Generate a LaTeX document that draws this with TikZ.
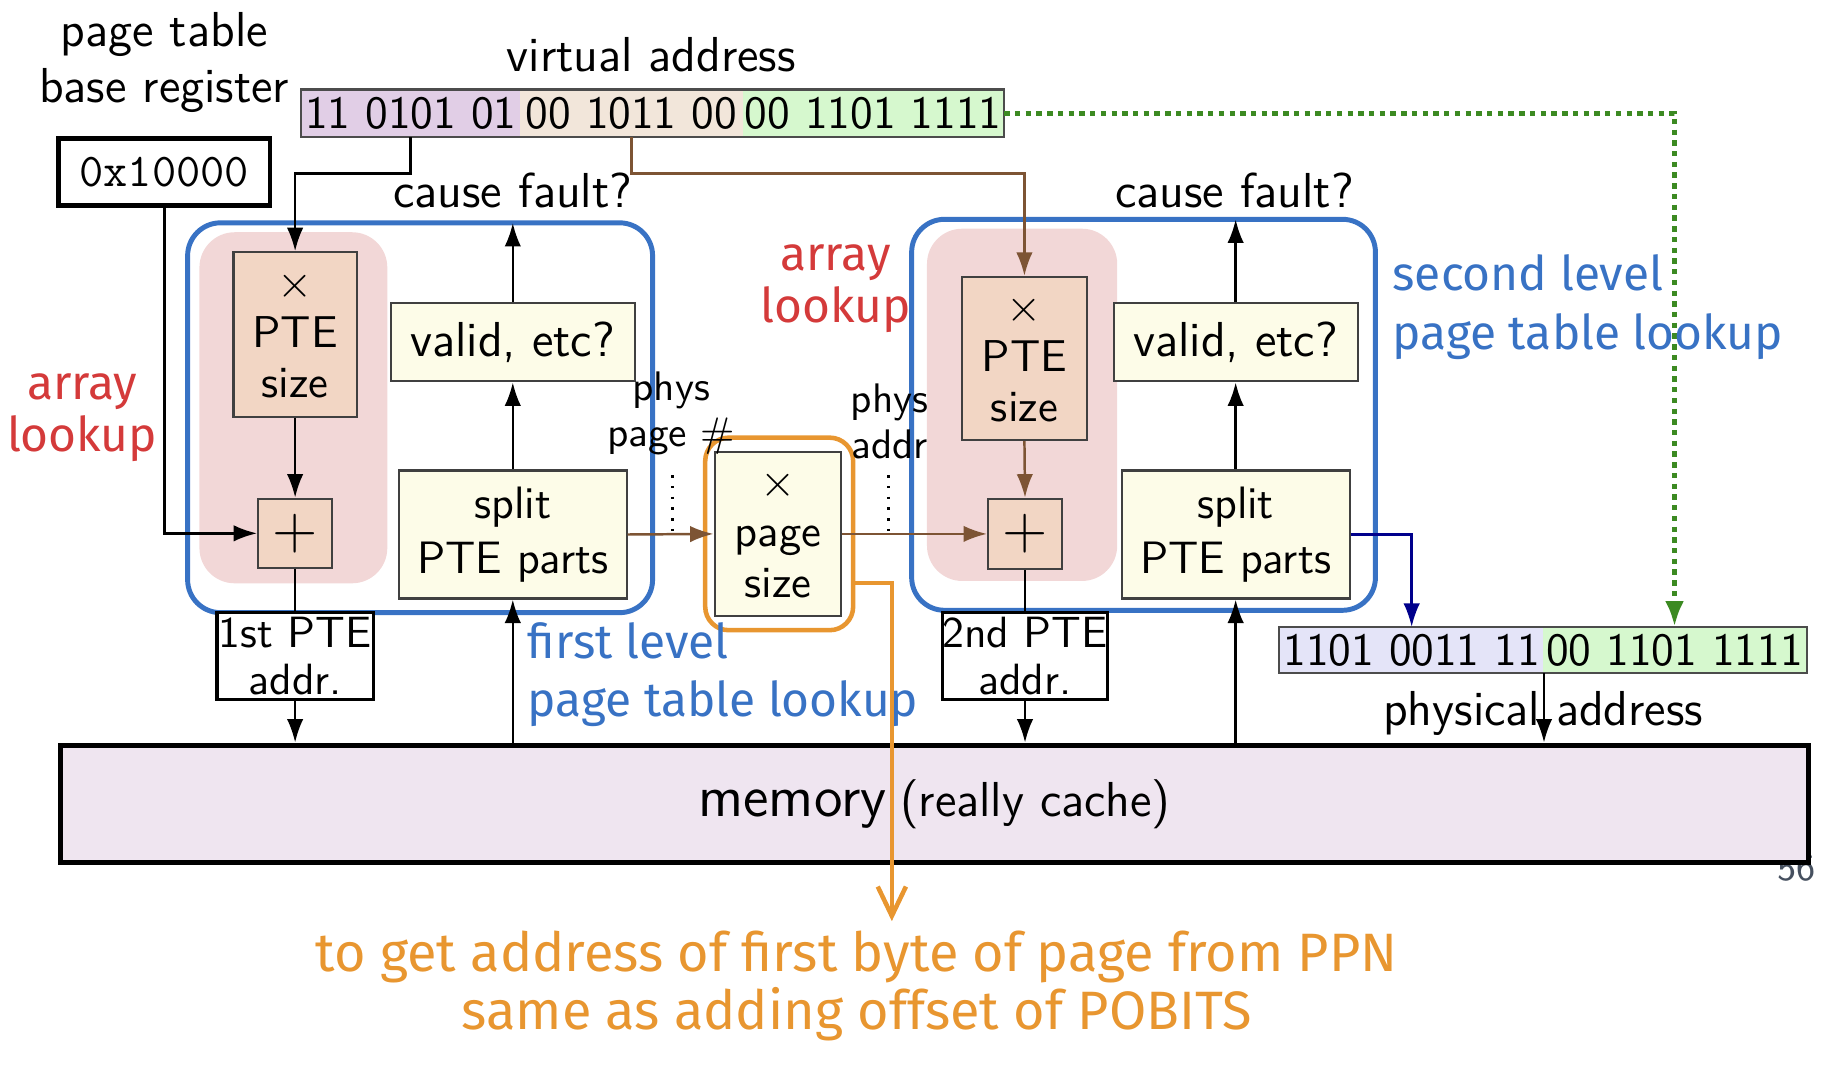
\documentclass[tikz,border=0pt]{standalone}
\usepackage{fontspec}
\newfontfamily\hand{Fira Sans}
\usetikzlibrary{arrows.meta}
\definecolor{vaPurple}{RGB}{225,206,230}
\definecolor{vaTan}{RGB}{242,230,218}
\definecolor{vaGreen}{RGB}{214,248,206}
\definecolor{paPurple}{RGB}{228,228,248}
\definecolor{pinkHL}{RGB}{242,215,215}
\definecolor{peach}{RGB}{242,214,196}
\definecolor{ivory}{RGB}{253,252,232}
\definecolor{memFill}{RGB}{239,229,240}
\definecolor{hlBlue}{RGB}{56,114,196}
\definecolor{hlOrange}{RGB}{232,150,48}
\definecolor{hlRed}{RGB}{212,58,58}
\definecolor{brownA}{RGB}{125,84,52}
\definecolor{greenA}{RGB}{60,138,34}
\definecolor{navyA}{RGB}{0,0,140}
\definecolor{pgGray}{RGB}{70,80,95}
\tikzset{
  lbl/.style={inner sep=0pt, align=center, font=\sffamily\fontsize{11.9}{13.6}\selectfont},
  smalllbl/.style={inner sep=0pt, align=center, font=\sffamily\fontsize{10}{11.2}\selectfont},
  boxx/.style={draw=black!75, line width=0.5pt, inner sep=0pt, align=center, font=\sffamily\fontsize{10.8}{12.2}\selectfont},
  ptebox/.style={boxx, fill=peach},
  yelbox/.style={boxx, fill=ivory},
  addrbox/.style={draw=black, line width=0.8pt, fill=white, inner sep=0pt, align=center, font=\sffamily\fontsize{10.6}{11.5}\selectfont},
  seg/.style={inner sep=0pt, minimum height=0.39cm, font=\sffamily\fontsize{11.2}{13}\selectfont},
  arr/.style={-{Latex[length=2mm,width=1.4mm]}, line width=0.6pt},
  hl/.style={fill=pinkHL, rounded corners=0.3cm, inner sep=0pt},
  frame/.style={draw=hlBlue, line width=1.2pt, rounded corners=0.28cm, inner sep=0pt},
  hand/.style={inner sep=0pt, align=center, font=\hand\fontsize{11.6}{12.8}\selectfont},
}
\begin{document}
\begin{tikzpicture}[x=0.01cm,y=-0.01cm]
\useasboundingbox (0,0) rectangle (1568,907);

% highlighter regions
\node[hl, minimum width=1.60cm, minimum height=2.99cm] (hl1) at (250,347.5) {};
\node[hl, minimum width=1.62cm, minimum height=3.00cm] (hl2) at (871,345) {};

% page table base register
\node[lbl] (ptbrlbl) at (140,53) {page table\\base register};
\node[draw=black, line width=1.1pt, inner sep=0pt, minimum width=1.8cm, minimum height=0.57cm,
      font=\ttfamily\fontsize{11.4}{13}\selectfont] (reg) at (140,146.5) {0x10000};

% virtual address
\node[lbl] (valbl) at (555,47) {virtual address};
\node[seg, fill=vaPurple, minimum width=1.86cm] (va1) at (350,96.5) {11 0101 01};
\node[seg, fill=vaTan, minimum width=1.90cm] (va2) at (538,96.5) {00 1011 00};
\node[seg, fill=vaGreen, minimum width=2.22cm] (va3) at (744,96.5) {00 1101 1111};
\draw[black!70, line width=0.5pt] (va1.north west) rectangle (va3.south east);

% level frames
\node[frame, minimum width=3.96cm, minimum height=3.32cm] (lvl1) at (358,356) {};
\node[frame, minimum width=3.95cm, minimum height=3.33cm] (lvl2) at (974.5,353.5) {};

% first level
\node[ptebox, minimum width=1.05cm, minimum height=1.40cm] (pte1) at (251.5,285) {$\times$\\PTE\\size};
\node[ptebox, minimum width=0.63cm, minimum height=0.59cm, font=\fontsize{15}{15}\selectfont] (plus1) at (251.5,454.5) {$+$};
\node[yelbox, minimum width=2.08cm, minimum height=0.67cm, font=\sffamily\fontsize{11.9}{13}\selectfont] (valid1) at (437,291.5) {valid, etc?};
\node[yelbox, minimum width=1.94cm, minimum height=1.09cm, font=\sffamily\fontsize{11}{13.4}\selectfont] (split1) at (437,455.5) {split\\PTE parts};
\node[addrbox, minimum width=1.33cm, minimum height=0.74cm] (addr1) at (251.5,559) {1st PTE\\addr.};
\node[lbl] (cfl1) at (437,162) {cause fault?};
\coordinate (cf1) at (437,190);

% page size
\node[yelbox, minimum width=1.08cm, minimum height=1.40cm] (psize) at (663,455) {$\times$\\page\\size};
\node[draw=hlOrange, line width=1.1pt, rounded corners=0.2cm, inner sep=0pt, minimum width=1.26cm, minimum height=1.64cm] (obox) at (664,455) {};
\node[smalllbl] (ppn) at (572,352) {phys\\page \#};
\node[smalllbl] (paddr) at (758,359) {phys\\addr};

% second level
\node[ptebox, minimum width=1.06cm, minimum height=1.39cm] (pte2) at (873,305.5) {$\times$\\PTE\\size};
\node[ptebox, minimum width=0.63cm, minimum height=0.60cm, font=\fontsize{15}{15}\selectfont] (plus2) at (873.5,455) {$+$};
\node[yelbox, minimum width=2.08cm, minimum height=0.67cm, font=\sffamily\fontsize{11.9}{13}\selectfont] (valid2) at (1053,291.5) {valid, etc?};
\node[yelbox, minimum width=1.94cm, minimum height=1.09cm, font=\sffamily\fontsize{11}{13.4}\selectfont] (split2) at (1053,455.5) {split\\PTE parts};
\node[addrbox, minimum width=1.41cm, minimum height=0.74cm] (addr2) at (873.5,559) {2nd PTE\\addr.};
\node[lbl] (cfl2) at (1052,162) {cause fault?};
\coordinate (cf2) at (1053,187);

% physical address
\node[seg, fill=paPurple, minimum width=2.24cm, minimum height=0.38cm] (pa1) at (1203,554) {1101 0011 11};
\node[seg, fill=vaGreen, minimum width=2.24cm, minimum height=0.38cm] (pa2) at (1427,554) {00 1101 1111};
\draw[black!70, line width=0.5pt] (pa1.north west) rectangle (pa2.south east);
\node[lbl] (palbl) at (1315,608) {physical address};

% page number (partly hidden)
\node[inner sep=0pt, text=pgGray, font=\sffamily\fontsize{9}{10}\selectfont] (pgno) at (1531,740) {56};

% memory
\node[draw=black, line width=1.2pt, fill=memFill, inner sep=0pt, minimum width=14.89cm, minimum height=1.0cm] (mem) at (796.5,685)
  {\sffamily{\fontsize{14.1}{16}\selectfont memory} {\fontsize{11.9}{14}\selectfont (really cache)}};

% connectors
\draw[arr] (va1.south) -- ++(0,31) -| (pte1.north);
\draw[arr, brownA] (va2.south) -- ++(0,31) -| (pte2.north);
\draw[-{Latex[length=2.2mm,width=1.6mm]}, greenA, line width=1.3pt, dash pattern=on 1.3pt off 1.3pt] (va3.east) -| (pa2.north);
\draw[arr] (reg.south) |- (plus1.west);
\draw[arr] (pte1.south) -- (plus1.north);
\draw[line width=0.6pt] (plus1.south) -- (addr1.north);
\draw[arr] (addr1.south) -- (addr1.south |- mem.north);
\draw[arr] (split1.south |- mem.north) -- (split1.south);
\draw[arr] (split1.north) -- (valid1.south);
\draw[arr] (valid1.north) -- (cf1);
\draw[arr, brownA] (split1.east) -- (psize.west);
\draw[arr, brownA] (psize.east) -- (plus2.west);
\draw[arr, brownA] (pte2.south) -- (plus2.north);
\draw[line width=0.6pt] (plus2.south) -- (addr2.north);
\draw[arr] (addr2.south) -- (addr2.south |- mem.north);
\draw[arr] (split2.south |- mem.north) -- (split2.south);
\draw[arr] (split2.north) -- (valid2.south);
\draw[arr] (valid2.north) -- (cf2);
\draw[arr, navyA] (split2.east) -| (pa1.north);
\draw[arr] (pa1.south east) -- (pa1.south east |- mem.north);

% dotted ticks
\draw[dotted, line width=0.6pt] (573,405) -- (573,455);
\draw[dotted, line width=0.6pt] (757,405) -- (757,455);

% handwritten annotations
\node[hand, text=hlRed] (al1) at (70,356) {array\\lookup};
\node[hand, text=hlRed] (al2) at (712,246) {array\\lookup};
\node[hand, text=hlBlue, align=left, anchor=west, font=\hand\fontsize{11.6}{14.2}\selectfont] (fl) at (449,575) {first level\\page table lookup};
\node[hand, text=hlBlue, align=left, anchor=west, font=\hand\fontsize{11.6}{14.2}\selectfont] (sl) at (1186,262) {second level\\page table lookup};
\coordinate (noteArr) at (760,785);
\draw[-{Straight Barb[length=2.5mm,width=2.4mm]}, hlOrange, line width=1.1pt] (obox.east |- 0,497) -| (noteArr);
\node[hand, text=hlOrange, font=\hand\fontsize{13.1}{12.8}\selectfont] (note) at (730,840) {to get address of first byte of page from PPN\\same as adding offset of POBITS};
\end{tikzpicture}
\end{document}
